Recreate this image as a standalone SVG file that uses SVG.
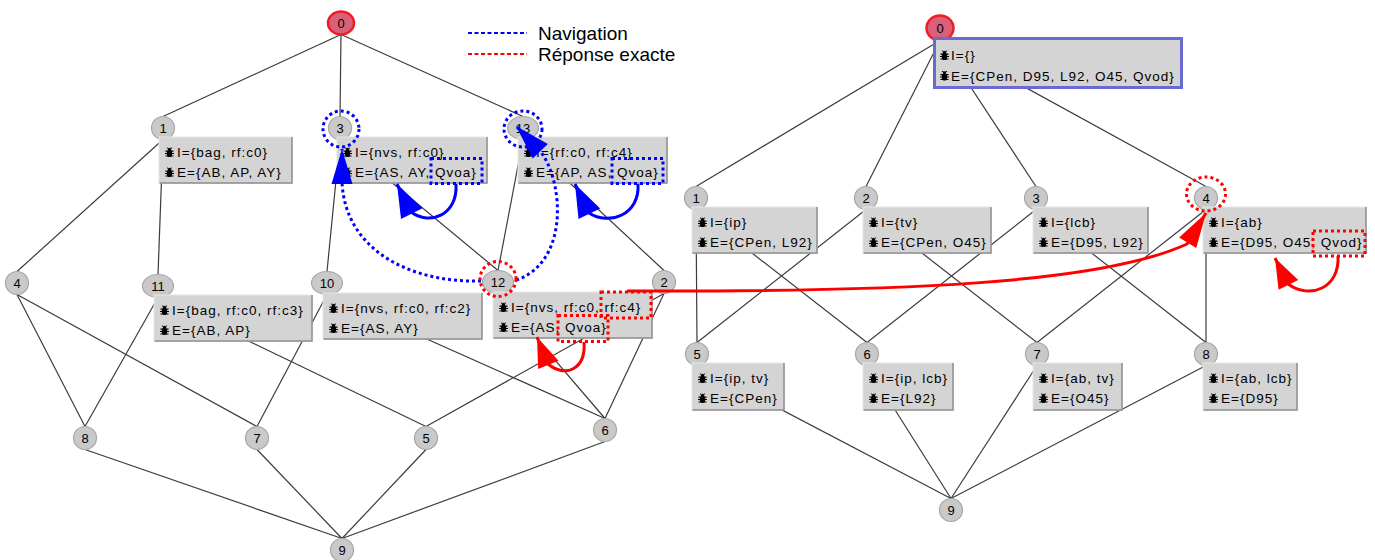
<svg xmlns="http://www.w3.org/2000/svg" width="1375" height="560" viewBox="0 0 1375 560">
<style>
.e{stroke:#3c3c3c;stroke-width:1.2;fill:none}
.n{fill:#c9c9c9;stroke:#a6a6a6;stroke-width:1.2}
.r{fill:#d8607a;stroke:#ee1c24;stroke-width:2.5}
.nl{font-family:"Liberation Sans",Arial,sans-serif;font-size:13px;fill:#000;text-anchor:middle}
.b{fill:#d4d4d4;stroke:#e6e6e6;stroke-width:1}
.bs{fill:none;stroke:#8c8c8c;stroke-width:1.5}
.bb{fill:#d4d4d4;stroke:#6a6ad0;stroke-width:3}
.t{font-family:"Liberation Sans",Arial,sans-serif;font-size:13.5px;letter-spacing:1px;fill:#000}
.db{fill:none;stroke:#0000ff;stroke-width:3;stroke-dasharray:3 3}
.dr{fill:none;stroke:#ff0000;stroke-width:3;stroke-dasharray:3 3}
.sb{fill:none;stroke:#0000ff;stroke-width:3}
.sr{fill:none;stroke:#ff0000;stroke-width:3}
.lgb{fill:none;stroke:#0000ff;stroke-width:2;stroke-dasharray:4 2.5}
.lgr{fill:none;stroke:#ff0000;stroke-width:2;stroke-dasharray:4 2.5}
.lg{font-family:"Liberation Sans",Arial,sans-serif;font-size:19px;fill:#000}
</style>
<defs>
<symbol id="bug" viewBox="0 0 10 11">
<ellipse cx="5" cy="6.5" rx="3" ry="4" fill="#000"/>
<circle cx="5" cy="2" r="1.7" fill="#000"/>
<path d="M0.5,4 L9.5,4 M0,6.6 L10,6.6 M0.5,9.3 L9.5,9.3 M3.8,1 L2.2,0 M6.2,1 L7.8,0" stroke="#000" stroke-width="1.2" fill="none"/>
</symbol>
<marker id="mb" markerUnits="userSpaceOnUse" viewBox="-35 -13 36 26" refX="0" refY="0" markerWidth="36" markerHeight="26" orient="auto"><path d="M0,0 L-33,-12 L-33,12 Z" fill="#0000ff" stroke="none"/></marker>
<marker id="mbn" markerUnits="userSpaceOnUse" viewBox="-37 -11 38 22" refX="0" refY="0" markerWidth="38" markerHeight="22" orient="auto"><path d="M0,0 L-35,-10.5 L-35,10.5 Z" fill="#0000ff" stroke="none"/></marker>
<marker id="mr" markerUnits="userSpaceOnUse" viewBox="-32 -12 33 24" refX="0" refY="0" markerWidth="33" markerHeight="24" orient="auto"><path d="M0,0 L-30,-11 L-30,11 Z" fill="#ff0000" stroke="none"/></marker>
<marker id="mrl" markerUnits="userSpaceOnUse" viewBox="-37 -11 38 22" refX="0" refY="0" markerWidth="38" markerHeight="22" orient="auto"><path d="M0,0 L-35,-10 L-35,10 Z" fill="#ff0000" stroke="none"/></marker>
</defs>
<rect width="1375" height="560" fill="#ffffff"/>

<g id="legend">
<path class="lgb" d="M468,33 H527"/>
<text class="lg" x="538" y="40">Navigation</text>
<path class="lgr" d="M468,54 H527"/>
<text class="lg" x="538" y="61">Réponse exacte</text>
</g>

<g id="edges">
<line class="e" x1="341" y1="34.5" x2="163" y2="116.5"/>
<line class="e" x1="341" y1="34.5" x2="340" y2="116.5"/>
<line class="e" x1="341" y1="34.5" x2="523" y2="116.5"/>
<line class="e" x1="163" y1="139.5" x2="17" y2="271.5"/>
<line class="e" x1="163" y1="139.5" x2="158" y2="274.5"/>
<line class="e" x1="340" y1="139.5" x2="327" y2="271.5"/>
<line class="e" x1="340" y1="139.5" x2="498" y2="270.5"/>
<line class="e" x1="523" y1="139.5" x2="498" y2="270.5"/>
<line class="e" x1="523" y1="139.5" x2="664" y2="270.5"/>
<line class="e" x1="17" y1="294.5" x2="85" y2="426.5"/>
<line class="e" x1="17" y1="294.5" x2="257" y2="426.5"/>
<line class="e" x1="158" y1="297.5" x2="85" y2="426.5"/>
<line class="e" x1="158" y1="297.5" x2="426" y2="426.5"/>
<line class="e" x1="327" y1="294.5" x2="257" y2="426.5"/>
<line class="e" x1="327" y1="294.5" x2="605" y2="418.5"/>
<line class="e" x1="498" y1="293.5" x2="605" y2="418.5"/>
<line class="e" x1="664" y1="293.5" x2="426" y2="426.5"/>
<line class="e" x1="664" y1="293.5" x2="605" y2="418.5"/>
<line class="e" x1="85" y1="449.5" x2="342" y2="538.5"/>
<line class="e" x1="257" y1="449.5" x2="342" y2="538.5"/>
<line class="e" x1="426" y1="449.5" x2="342" y2="538.5"/>
<line class="e" x1="605" y1="441.5" x2="342" y2="538.5"/>
<line class="e" x1="940" y1="40.5" x2="696" y2="186.5"/>
<line class="e" x1="940" y1="40.5" x2="866" y2="186.5"/>
<line class="e" x1="940" y1="40.5" x2="1036" y2="186.5"/>
<line class="e" x1="940" y1="40.5" x2="1206" y2="186.5"/>
<line class="e" x1="696" y1="209.5" x2="697" y2="342.5"/>
<line class="e" x1="696" y1="209.5" x2="867" y2="342.5"/>
<line class="e" x1="866" y1="209.5" x2="697" y2="342.5"/>
<line class="e" x1="866" y1="209.5" x2="1037" y2="342.5"/>
<line class="e" x1="1036" y1="209.5" x2="867" y2="342.5"/>
<line class="e" x1="1036" y1="209.5" x2="1206" y2="342.5"/>
<line class="e" x1="1206" y1="209.5" x2="1037" y2="342.5"/>
<line class="e" x1="1206" y1="209.5" x2="1206" y2="342.5"/>
<line class="e" x1="697" y1="365.5" x2="951" y2="498.5"/>
<line class="e" x1="867" y1="365.5" x2="951" y2="498.5"/>
<line class="e" x1="1037" y1="365.5" x2="951" y2="498.5"/>
<line class="e" x1="1206" y1="365.5" x2="951" y2="498.5"/>
</g>

<!-- Left lattice -->
<g id="L0"><ellipse class="r" cx="341" cy="23" rx="13" ry="11.5"/><text class="nl" x="341" y="27.5">0</text></g>
<g id="L1"><ellipse class="n" cx="163" cy="128" rx="11.5" ry="11.5"/><text class="nl" x="163" y="132.5">1</text>
<rect class="b" x="159" y="137" width="133" height="46"/><path class="bs" d="M159.5,183 H292 V137"/>
<use href="#bug" x="165" y="147.5" width="9" height="10"/><text class="t" x="177" y="157">I={bag, rf:c0}</text>
<use href="#bug" x="165" y="167.5" width="9" height="10"/><text class="t" x="177" y="177">E={AB, AP, AY}</text></g>
<g id="L3"><ellipse class="n" cx="340" cy="128" rx="11.5" ry="11.5"/><text class="nl" x="340" y="132.5">3</text>
<rect class="b" x="337" y="137" width="150" height="46"/><path class="bs" d="M337.5,183 H487 V137"/>
<use href="#bug" x="343" y="147.5" width="9" height="10"/><text class="t" x="355" y="157">I={nvs, rf:c0}</text>
<use href="#bug" x="343" y="167.5" width="9" height="10"/><text class="t" x="355" y="177">E={AS, AY, Qvoa}</text></g>
<g id="L13"><ellipse class="n" cx="523" cy="128" rx="15.5" ry="11.5"/><text class="nl" x="523" y="132.5">13</text>
<rect class="b" x="518" y="137" width="149" height="46"/><path class="bs" d="M518.5,183 H667 V137"/>
<use href="#bug" x="524" y="147.5" width="9" height="10"/><text class="t" x="536" y="157">I={rf:c0, rf:c4}</text>
<use href="#bug" x="524" y="167.5" width="9" height="10"/><text class="t" x="536" y="177">E={AP, AS, Qvoa}</text></g>
<g id="L4"><ellipse class="n" cx="17" cy="283" rx="11.5" ry="11.5"/><text class="nl" x="17" y="287.5">4</text></g>
<g id="L11"><ellipse class="n" cx="158" cy="286" rx="15.5" ry="11.5"/><text class="nl" x="158" y="290.5">11</text>
<rect class="b" x="154" y="295" width="158" height="46"/><path class="bs" d="M154.5,341 H312 V295"/>
<use href="#bug" x="160" y="305.5" width="9" height="10"/><text class="t" x="172" y="315">I={bag, rf:c0, rf:c3}</text>
<use href="#bug" x="160" y="325.5" width="9" height="10"/><text class="t" x="172" y="335">E={AB, AP}</text></g>
<g id="L10"><ellipse class="n" cx="327" cy="283" rx="15.5" ry="11.5"/><text class="nl" x="327" y="287.5">10</text>
<rect class="b" x="323" y="293" width="159" height="46"/><path class="bs" d="M323.5,339 H482 V293"/>
<use href="#bug" x="329" y="303.5" width="9" height="10"/><text class="t" x="341" y="313">I={nvs, rf:c0, rf:c2}</text>
<use href="#bug" x="329" y="323.5" width="9" height="10"/><text class="t" x="341" y="333">E={AS, AY}</text></g>
<g id="L12"><ellipse class="n" cx="498" cy="282" rx="15.5" ry="11.5"/><text class="nl" x="498" y="286.5">12</text>
<rect class="b" x="493" y="292" width="159" height="46"/><path class="bs" d="M493.5,338 H652 V292"/>
<use href="#bug" x="499" y="302.5" width="9" height="10"/><text class="t" x="511" y="312">I={nvs, rf:c0, rf:c4}</text>
<use href="#bug" x="499" y="322.5" width="9" height="10"/><text class="t" x="511" y="332">E={AS, Qvoa}</text></g>
<g id="L2"><ellipse class="n" cx="664" cy="282" rx="11.5" ry="11.5"/><text class="nl" x="664" y="286.5">2</text></g>
<g id="L8"><ellipse class="n" cx="85" cy="438" rx="11.5" ry="11.5"/><text class="nl" x="85" y="442.5">8</text></g>
<g id="L7"><ellipse class="n" cx="257" cy="438" rx="11.5" ry="11.5"/><text class="nl" x="257" y="442.5">7</text></g>
<g id="L5"><ellipse class="n" cx="426" cy="438" rx="11.5" ry="11.5"/><text class="nl" x="426" y="442.5">5</text></g>
<g id="L6"><ellipse class="n" cx="605" cy="430" rx="11.5" ry="11.5"/><text class="nl" x="605" y="434.5">6</text></g>
<g id="L9"><ellipse class="n" cx="342" cy="550" rx="11.5" ry="11.5"/><text class="nl" x="342" y="554.5">9</text></g>

<!-- Right lattice -->
<g id="R0"><ellipse class="r" cx="940" cy="28" rx="13.5" ry="12.5"/><text class="nl" x="940" y="32.5">0</text>
<rect class="bb" x="934.5" y="38.5" width="247" height="49"/>
<use href="#bug" x="940" y="50.5" width="9" height="10"/><text class="t" x="951" y="60">I={}</text>
<use href="#bug" x="940" y="71" width="9" height="10"/><text class="t" x="951" y="80.5">E={CPen, D95, L92, O45, Qvod}</text></g>
<g id="R1"><ellipse class="n" cx="696" cy="198" rx="11.5" ry="11.5"/><text class="nl" x="696" y="202.5">1</text>
<rect class="b" x="692" y="207" width="125" height="46"/><path class="bs" d="M692.5,253 H817 V207"/>
<use href="#bug" x="698" y="217.5" width="9" height="10"/><text class="t" x="710" y="227">I={ip}</text>
<use href="#bug" x="698" y="237.5" width="9" height="10"/><text class="t" x="710" y="247">E={CPen, L92}</text></g>
<g id="R2"><ellipse class="n" cx="866" cy="198" rx="11.5" ry="11.5"/><text class="nl" x="866" y="202.5">2</text>
<rect class="b" x="863" y="207" width="128" height="46"/><path class="bs" d="M863.5,253 H991 V207"/>
<use href="#bug" x="869" y="217.5" width="9" height="10"/><text class="t" x="881" y="227">I={tv}</text>
<use href="#bug" x="869" y="237.5" width="9" height="10"/><text class="t" x="881" y="247">E={CPen, O45}</text></g>
<g id="R3"><ellipse class="n" cx="1036" cy="198" rx="11.5" ry="11.5"/><text class="nl" x="1036" y="202.5">3</text>
<rect class="b" x="1033" y="207" width="115" height="46"/><path class="bs" d="M1033.5,253 H1148 V207"/>
<use href="#bug" x="1039" y="217.5" width="9" height="10"/><text class="t" x="1051" y="227">I={lcb}</text>
<use href="#bug" x="1039" y="237.5" width="9" height="10"/><text class="t" x="1051" y="247">E={D95, L92}</text></g>
<g id="R4"><ellipse class="n" cx="1206" cy="198" rx="11.5" ry="11.5"/><text class="nl" x="1206" y="202.5">4</text>
<rect class="b" x="1203" y="207" width="163" height="46"/><path class="bs" d="M1203.5,253 H1366 V207"/>
<use href="#bug" x="1209" y="217.5" width="9" height="10"/><text class="t" x="1221" y="227">I={ab}</text>
<use href="#bug" x="1209" y="237.5" width="9" height="10"/><text class="t" x="1221" y="247">E={D95, O45, Qvod}</text></g>
<g id="R5"><ellipse class="n" cx="697" cy="354" rx="11.5" ry="11.5"/><text class="nl" x="697" y="358.5">5</text>
<rect class="b" x="692" y="363" width="92" height="47"/><path class="bs" d="M692.5,410 H784 V363"/>
<use href="#bug" x="698" y="373.5" width="9" height="10"/><text class="t" x="710" y="383">I={ip, tv}</text>
<use href="#bug" x="698" y="393.5" width="9" height="10"/><text class="t" x="710" y="403">E={CPen}</text></g>
<g id="R6"><ellipse class="n" cx="867" cy="354" rx="11.5" ry="11.5"/><text class="nl" x="867" y="358.5">6</text>
<rect class="b" x="863" y="363" width="90" height="47"/><path class="bs" d="M863.5,410 H953 V363"/>
<use href="#bug" x="869" y="373.5" width="9" height="10"/><text class="t" x="881" y="383">I={ip, lcb}</text>
<use href="#bug" x="869" y="393.5" width="9" height="10"/><text class="t" x="881" y="403">E={L92}</text></g>
<g id="R7"><ellipse class="n" cx="1037" cy="354" rx="11.5" ry="11.5"/><text class="nl" x="1037" y="358.5">7</text>
<rect class="b" x="1033" y="363" width="89" height="47"/><path class="bs" d="M1033.5,410 H1122 V363"/>
<use href="#bug" x="1039" y="373.5" width="9" height="10"/><text class="t" x="1051" y="383">I={ab, tv}</text>
<use href="#bug" x="1039" y="393.5" width="9" height="10"/><text class="t" x="1051" y="403">E={O45}</text></g>
<g id="R8"><ellipse class="n" cx="1206" cy="354" rx="11.5" ry="11.5"/><text class="nl" x="1206" y="358.5">8</text>
<rect class="b" x="1203" y="363" width="94" height="47"/><path class="bs" d="M1203.5,410 H1297 V363"/>
<use href="#bug" x="1209" y="373.5" width="9" height="10"/><text class="t" x="1221" y="383">I={ab, lcb}</text>
<use href="#bug" x="1209" y="393.5" width="9" height="10"/><text class="t" x="1221" y="403">E={D95}</text></g>
<g id="R9"><ellipse class="n" cx="951" cy="510" rx="11.5" ry="11.5"/><text class="nl" x="951" y="514.5">9</text></g>

<g id="annotations">
<ellipse class="db" cx="341" cy="129" rx="18" ry="18"/>
<ellipse class="db" cx="523" cy="129" rx="19" ry="18"/>
<rect class="db" x="431" y="158.5" width="51" height="25"/>
<rect class="db" x="612" y="158.5" width="51" height="25"/>
<path class="sb" d="M456,184 C458,215 430,226 411,212 L397,184" marker-end="url(#mb)"/>
<path class="sb" d="M638,184 C640,215 609,226 589,213 L575,184" marker-end="url(#mb)"/>
<path class="db" d="M481,281 C410,283 345,250 342,182 L342,149" marker-end="url(#mbn)"/>
<path class="db" d="M516,280 C548,270 560,235 557,200 C555,180 550,165 541,152 L516,126" marker-end="url(#mbn)"/>
<ellipse class="dr" cx="498" cy="279" rx="18" ry="17.5"/>
<rect class="dr" x="601" y="292" width="50" height="26"/>
<rect class="dr" x="558" y="315.5" width="50" height="26"/>
<path class="sr" d="M584,342 C586,370 565,378 548,364 L537,337" marker-end="url(#mr)"/>
<path class="sr" d="M627,291 C900,292 1100,284 1187,244 L1206,213" marker-end="url(#mrl)"/>
<ellipse class="dr" cx="1206" cy="194" rx="19.5" ry="17"/>
<rect class="dr" x="1313" y="231" width="52" height="25"/>
<path class="sr" d="M1338,256 C1340,288 1310,300 1288,284 L1275,258" marker-end="url(#mr)"/>
</g>
</svg>
